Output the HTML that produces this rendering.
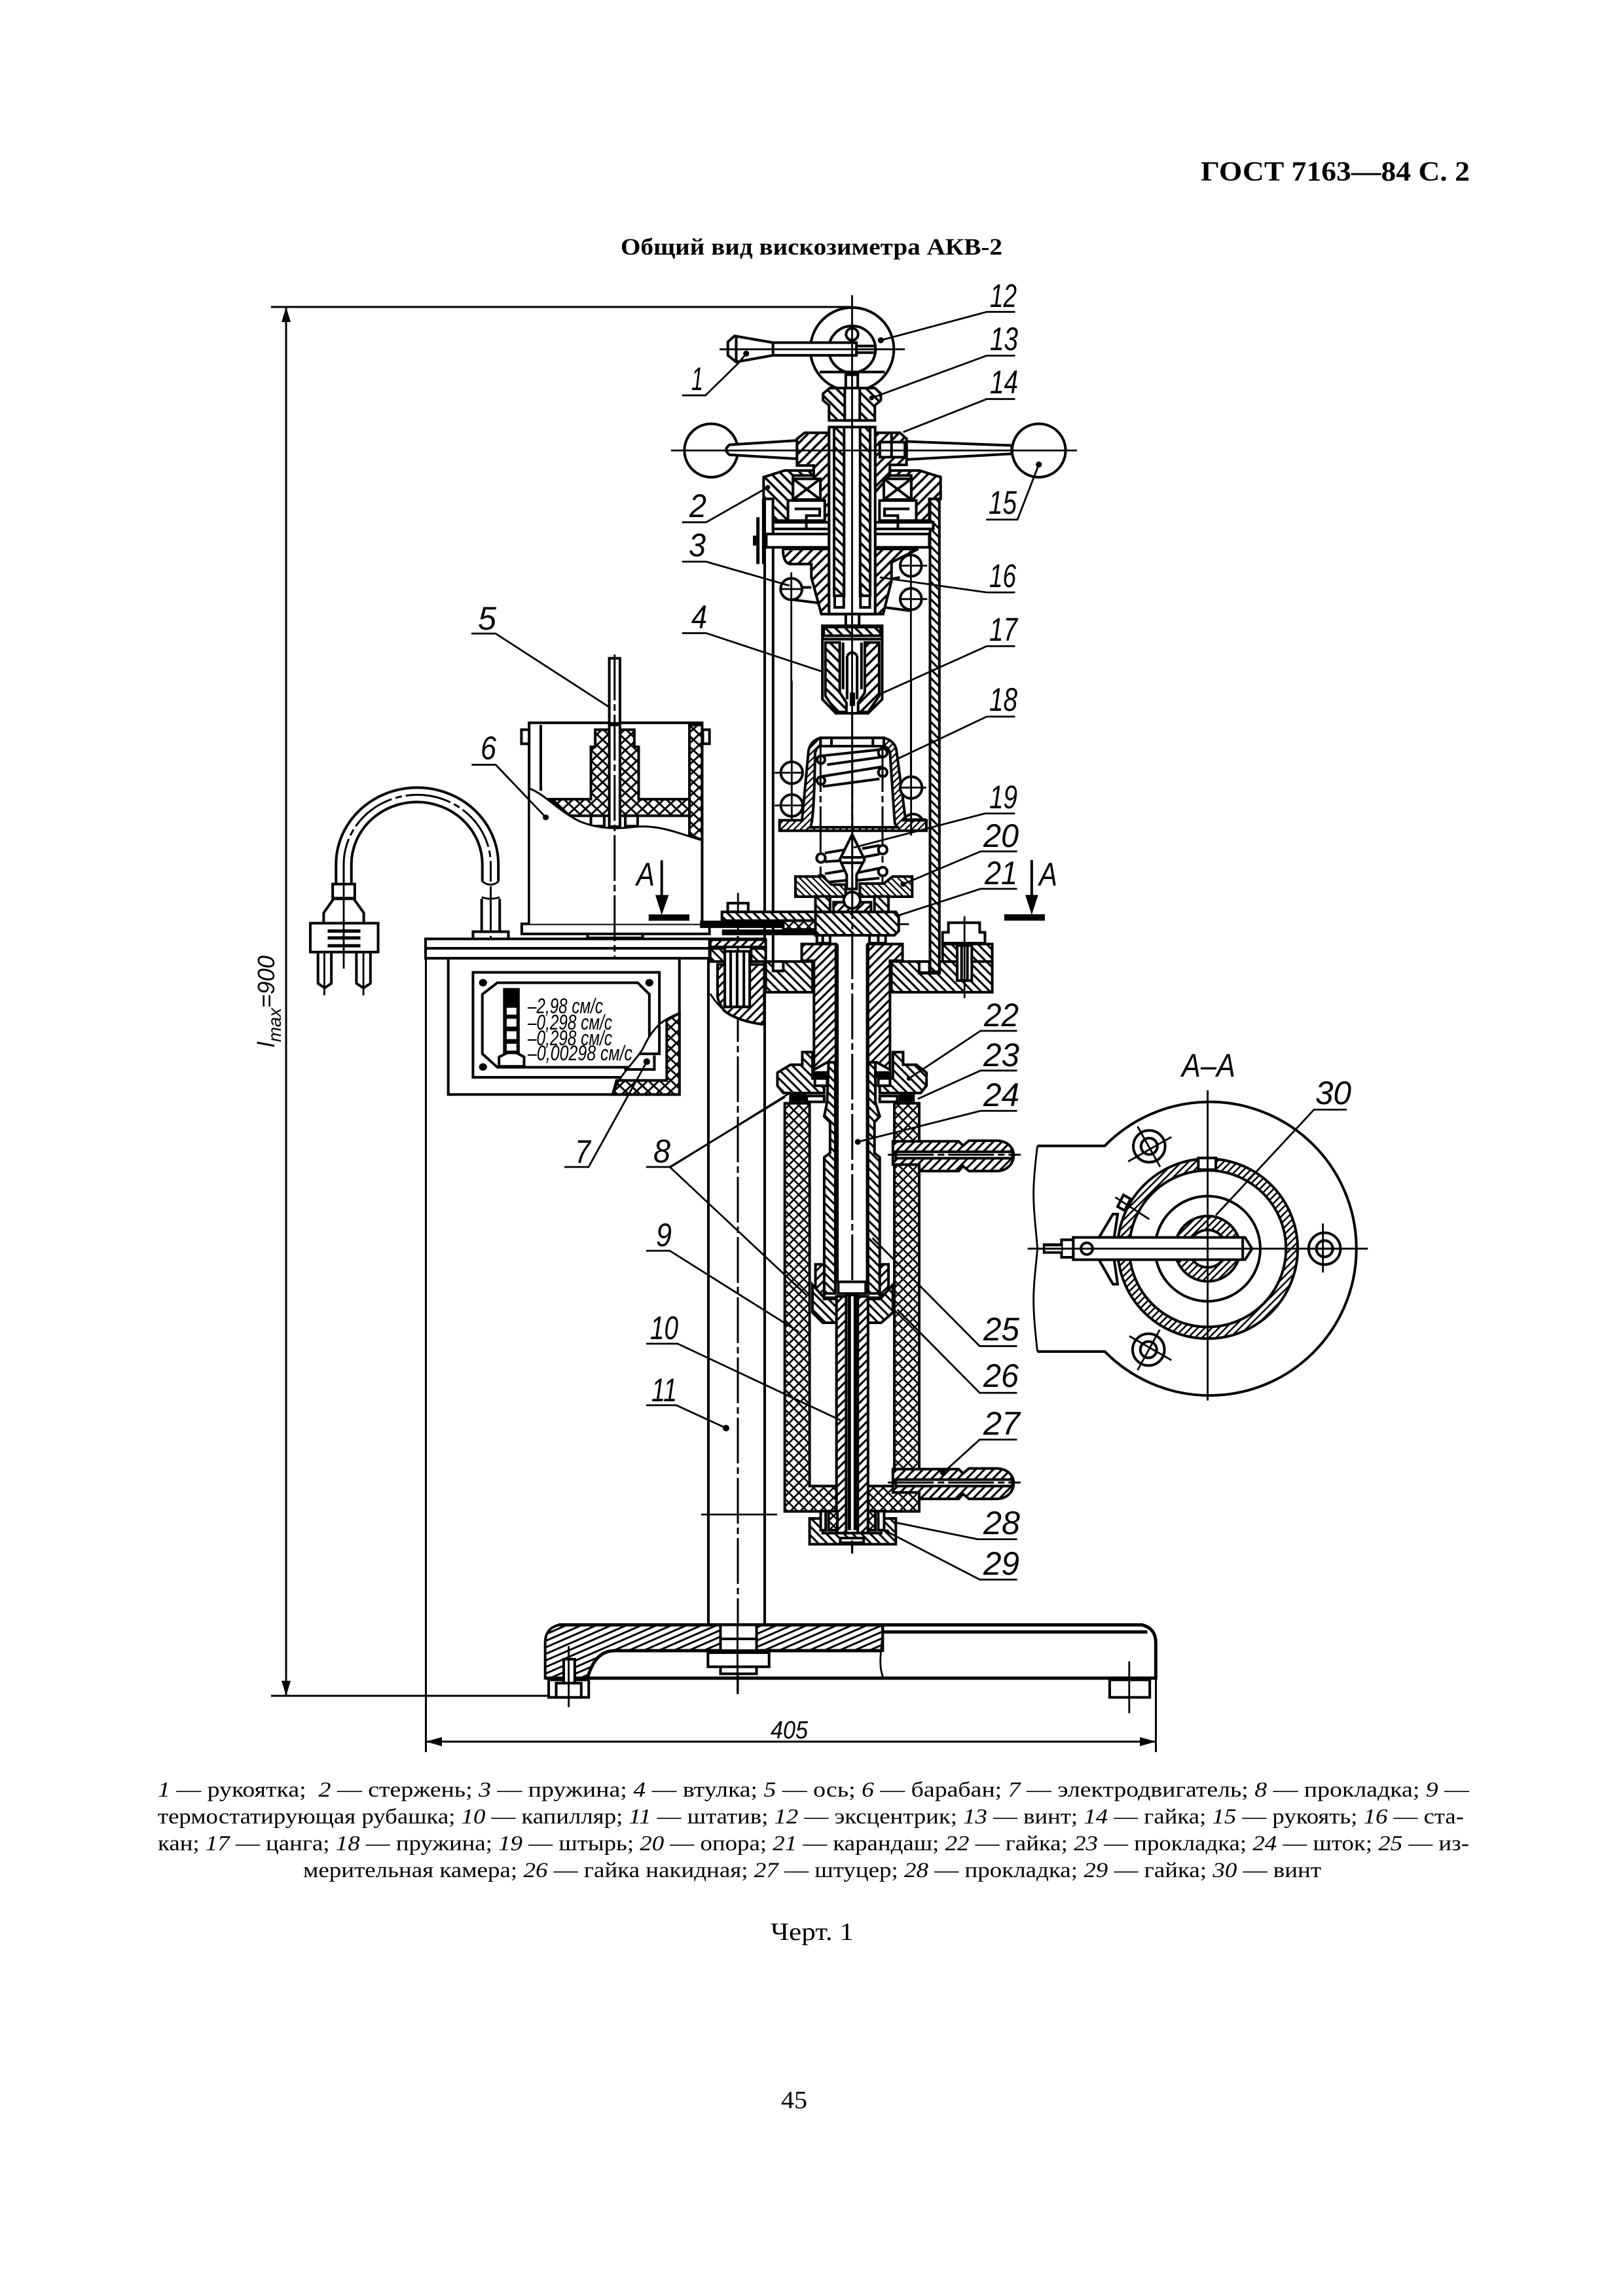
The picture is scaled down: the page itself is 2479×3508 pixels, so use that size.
<!DOCTYPE html>
<html><head><meta charset="utf-8"><style>
html,body{margin:0;padding:0;background:#fff}
svg{display:block}
.s,.o,.t,.d,.k{vector-effect:non-scaling-stroke}
.s{fill:#fff;stroke:#000;stroke-width:4;stroke-linejoin:miter}
.o{fill:none;stroke:#000;stroke-width:4}
.t{fill:none;stroke:#000;stroke-width:2.8}
.d{fill:none;stroke:#000;stroke-width:3;stroke-dasharray:70 6 10 6}
.k{fill:#000;stroke:none}
.A{fill:url(#a)}.B{fill:url(#b)}.C{fill:url(#c)}
text{fill:#000}
.l{font:italic 50px "Liberation Sans",sans-serif}
.m{font:italic 32px "Liberation Sans",sans-serif}
.r{font:33px "Liberation Serif",serif}
.r tspan{font-style:italic}
</style></head><body>
<svg xmlns="http://www.w3.org/2000/svg" width="2479" height="3508" viewBox="0 0 2479 3508">
<defs>
<pattern id="a" width="30" height="30" patternUnits="userSpaceOnUse"><rect width="30" height="30" fill="#fff"/><path d="M-5,5L5,-5M0,30L30,0M25,35L35,25" stroke="#000" stroke-width="7"/></pattern>
<pattern id="b" width="30" height="30" patternUnits="userSpaceOnUse"><rect width="30" height="30" fill="#fff"/><path d="M-5,25L5,35M0,0L30,30M25,-5L35,5" stroke="#000" stroke-width="7"/></pattern>
<pattern id="c" width="34" height="34" patternUnits="userSpaceOnUse"><rect width="34" height="34" fill="#fff"/><path d="M-5,5L5,-5M0,34L34,0M29,39L39,29M-5,29L5,39M0,0L34,34M29,-5L39,5" stroke="#000" stroke-width="6"/></pattern>
<g id="fit">
<path class="s A" d="M815,1330H1040L1055,1345L1075,1328H1170C1205,1328 1228,1350 1228,1378C1228,1408 1205,1432 1170,1432H1075L1055,1415L1040,1432H905V1410H815Z"/>
<path class="s" d="M825,1366H1224V1388H825Z"/>
<path class="d" d="M798,1376H1252"/>
</g>
</defs>
<rect width="2479" height="3508" fill="#fff"/>

<!-- page text -->
<text x="1834" y="276" textLength="411" lengthAdjust="spacingAndGlyphs" style="font:bold 42px 'Liberation Serif',serif">ГОСТ 7163—84 С. 2</text>
<text x="948" y="389" textLength="583" lengthAdjust="spacingAndGlyphs" style="font:bold 36px 'Liberation Serif',serif">Общий вид вискозиметра АКВ-2</text>
<text class="r" x="241" y="2745" textLength="2003" lengthAdjust="spacingAndGlyphs"><tspan>1</tspan> — рукоятка;&#160; <tspan>2</tspan> — стержень;  <tspan>3</tspan> — пружина;  <tspan>4</tspan> — втулка;  <tspan>5</tspan> — ось;  <tspan>6</tspan> — барабан;  <tspan>7</tspan> — электродвигатель;  <tspan>8</tspan> — прокладка;  <tspan>9</tspan> —</text>
<text class="r" x="241" y="2786" textLength="1995" lengthAdjust="spacingAndGlyphs">термостатирующая рубашка; <tspan>10</tspan> — капилляр; <tspan>11</tspan> — штатив; <tspan>12</tspan> — эксцентрик; <tspan>13</tspan> — винт; <tspan>14</tspan> — гайка; <tspan>15</tspan> — рукоять; <tspan>16</tspan> — ста-</text>
<text class="r" x="241" y="2827" textLength="2003" lengthAdjust="spacingAndGlyphs">кан; <tspan>17</tspan> —  цанга; <tspan>18</tspan> — пружина; <tspan>19</tspan> — штырь; <tspan>20</tspan> — опора; <tspan>21</tspan> — карандаш; <tspan>22</tspan> — гайка; <tspan>23</tspan> — прокладка; <tspan>24</tspan> — шток; <tspan>25</tspan> — из-</text>
<text class="r" x="463" y="2868" textLength="1555" lengthAdjust="spacingAndGlyphs">мерительная камера; <tspan>26</tspan> — гайка накидная; <tspan>27</tspan> — штуцер; <tspan>28</tspan> — прокладка; <tspan>29</tspan> — гайка; <tspan>30</tspan> — винт</text>
<text x="1177" y="2964" textLength="127" lengthAdjust="spacingAndGlyphs" style="font:38px 'Liberation Serif',serif">Черт. 1</text>
<text x="1193" y="3221" textLength="40" lengthAdjust="spacingAndGlyphs" style="font:38px 'Liberation Serif',serif">45</text>

<!-- dimensions -->
<path class="t" d="M414,469H1300M437,469V2591M414,2591H838M650.5,1465V2677M1765.5,2540V2677M650.5,2661H1765.5" style="stroke-width:3"/>
<path class="k" d="M437,469L444,492H430ZM437,2591L444,2568H430ZM650.5,2661L675,2654V2668ZM1765.5,2661L1741,2654V2668Z"/>
<text class="l" transform="translate(419,1600) rotate(-90)" style="font-size:36px" textLength="140" lengthAdjust="spacingAndGlyphs">l<tspan dy="10" style="font-size:28px">max</tspan><tspan dy="-10">=900</tspan></text>
<text class="l" x="1177" y="2656" style="font-size:38px" textLength="57" lengthAdjust="spacingAndGlyphs">405</text>

<!-- base stand -->
<path class="o" d="M1082,1464V2483M1168,730V2483"/>
<path class="d" d="M1127,1430V2588"/>
<path class="t" d="M1071,2314H1187"/>
<g transform="translate(620,2430) scale(.7651,.3333)">
<path class="s A" d="M305,158H952V276H415C380,280 370,350 362,402H278V240C278,200 285,170 305,158Z"/>
<path class="o" d="M305,158H1470C1490,170 1497,200 1497,240V402H278M950,190H1480M950,276H415C380,280 370,350 362,402" style="stroke-width:5"/>
<path class="s" d="M628,158H700V276H628Z"/>
<path class="o" d="M628,222H700"/>
<path class="s" d="M603,285H725V350H603ZM628,350H700V382H628Z"/>
<path class="t" d="M662,150V475M950,165C955,230 940,320 952,395"/>
<path class="s" d="M285,410H365V490H285ZM1405,410H1485V490H1405Z"/>
<path class="s" d="M300,425H350V490H300ZM315,315H337V425H315Z"/>
<path class="t" d="M325,255V535M1444,325V563"/>
</g>

<!-- housing walls -->
<g transform="translate(1000,1150) scale(.4464)">
<path class="o" d="M405,-945V745"/>
<rect class="s B" x="942" y="-945" width="32" height="1695"/>
</g>

<!-- motor box & drum -->
<g transform="translate(400,1000) scale(.5102,.4785)">
<path class="o" d="M222,733V670A243,245 0 0 1 708,670V725M268,733V670A195,198 0 0 1 660,670V725"/>
<path class="d" d="M245,733V670A220,222 0 0 1 685,670V725"/>
<path class="t" d="M660,725Q685,745 708,725M658,775Q685,785 712,775"/>
<path class="s" d="M212,733H278V778H212ZM215,780H275L305,825V858H185V825Z"/>
<path class="s" d="M145,858H348V950H145ZM168,950H208V1050L188,1065L168,1050ZM283,950H325V1050L304,1065L283,1050Z"/>
<path class="o" d="M197,883H295M197,905H295M197,930H295" style="stroke-width:5"/>
<path class="t" d="M187,950V1088M304,950V1088M245,733V1003"/>
<path class="o" d="M658,780V885M712,780V885"/>
<path class="s" d="M632,885H738V910H632Z"/>
<path class="d" d="M685,740V950"/>
<path class="s" d="M490,908H1340V970H490Z"/>
<path class="o" d="M490,938H1340M1340,908H1510"/>
<path class="s" d="M558,970H1250V1405H558Z"/>
<rect class="o" x="632" y="1015" width="558" height="335"/>
<path class="o" d="M660,1085L705,1048H1125L1160,1085V1280L1125,1318H705L660,1275Z"/>
<circle class="k" cx="662" cy="1048" r="12"/><circle class="k" cx="1160" cy="1048" r="12"/><circle class="k" cx="662" cy="1317" r="12"/>
<rect class="k" x="722" y="1065" width="50" height="215"/>
<path d="M733,1128H762V1150H733ZM733,1163H762V1188H733ZM733,1203H762V1228H733ZM733,1243H762V1265H733Z" fill="#fff"/>
<path class="s" d="M710,1285L735,1272H762L785,1285V1315H710Z"/>
<path d="M1250,1145C1200,1165 1170,1190 1140,1260C1110,1310 1070,1340 1050,1405H1250Z" fill="#fff"/>
<path class="s C" d="M1212,1168L1250,1145V1405H1050L1062,1360H1212Z"/>
<path class="o" d="M1190,1185V1275H1130M1175,1280V1325H1085"/>
<path class="t" d="M1250,1145C1200,1165 1170,1190 1140,1260C1110,1310 1070,1340 1050,1405"/>
<!-- drum -->
<path class="s" d="M778,860H1340V892H778Z"/>
<path class="s" d="M800,218H1318V860H800Z"/>
<path class="s" d="M777,240H800V285H777ZM1320,240H1340V285H1320Z"/>
<path class="o" d="M835,225V435"/>
<path class="s C" d="M1280,225H1318V592C1300,585 1290,580 1280,575Z"/>
<path class="s C" d="M860,462H985V295H998V240H1115V295H1128V462H1280V515H925C900,500 880,480 860,462Z"/>
<path class="s" d="M1040,225H1072V550H1040Z"/>
<path class="s" d="M985,515H1025V548H985ZM1088,515H1125V548H1088Z"/>
<path d="M802,428C850,450 880,490 930,520C980,555 1056,558 1100,552C1180,540 1230,565 1314,592V860H802Z" fill="#fff"/>
<path class="o" d="M802,428C850,450 880,490 930,520C980,555 1056,558 1100,552C1180,540 1230,565 1314,592M800,428V860M1318,590V860" style="stroke-width:3"/>
<path class="s" d="M1040,12H1072V220H1040Z"/>
<path class="d" d="M1056,0V965"/>
<path class="o" d="M975,892V905H1140V892"/>
<path class="o" d="M1197,657V770"/>
<path class="k" d="M1178,768H1218L1197,832ZM1158,830H1280V850H1158Z"/>
<path class="t" d="M628,352H700L850,520"/>
<circle class="k" cx="850" cy="520" r="9"/>
<circle class="k" cx="1152" cy="1300" r="10"/>
</g>
<text class="m" x="806" y="1548" textLength="115" lengthAdjust="spacingAndGlyphs">–2,98 см/с</text>
<text class="m" x="806" y="1573" textLength="129" lengthAdjust="spacingAndGlyphs">–0,298 см/с</text>
<text class="m" x="806" y="1597" textLength="129" lengthAdjust="spacingAndGlyphs">–0,298 см/с</text>
<text class="m" x="806" y="1620" textLength="160" lengthAdjust="spacingAndGlyphs">–0,00298 см/с</text>

<!-- top assembly -->
<g transform="translate(900,400) scale(.5102)">
<circle class="o" cx="787" cy="262" r="125"/>
<circle class="o" cx="787" cy="262" r="70"/>
<circle class="o" cx="787" cy="217" r="18"/>
<path class="o" d="M690,330H885"/>
<path class="s" d="M415,240L435,222L550,242H800V280H550L440,300L415,280Z"/>
<path class="o" d="M550,242V280M440,225V300"/>
<path class="o" d="M800,252H860M800,272H860"/>
<rect class="s" x="768" y="338" width="36" height="44"/>
<path class="s B" d="M700,395L720,378H855L873,395V415L855,430V475H718V430L700,415Z"/>
<rect class="s" x="765" y="378" width="45" height="97"/>
<circle class="s" cx="365" cy="565" r="80"/>
<circle class="s" cx="1346" cy="565" r="80"/>
<path class="s" d="M622,535L420,548Q400,562 420,578L622,590Z"/>
<path class="s" d="M950,538L1265,550V575L950,592Z"/>
<path class="s A" d="M622,530L645,512H718V800H672V610H622Z"/>
<path class="s A" d="M856,512H930L950,530V608H900V640L856,690Z"/>
<path class="s" d="M870,540H945V585H870Z"/><path class="o" d="M905,515V585"/>
<!-- cap -->
<path class="s B" d="M522,645L585,625H672V640H610V715H595V745L610,775L550,775V710H522Z"/>
<path class="s A" d="M1052,645L989,625H900V640H964V715H979V745L964,775L1018,775V710H1052Z"/>
<path class="s" d="M610,650H692V712H610ZM882,650H964V712H882Z"/>
<path class="o" d="M610,650L692,712M692,650L610,712M882,650L964,712M964,650L882,712"/>
<path class="s" d="M595,715H705V775H595ZM869,715H979V775H869Z"/>
<path class="o" d="M615,740H690V760H650V780M959,740H884V760H924V780"/>
<path class="s" d="M550,780H718V800H550ZM856,780H1030V800H856Z"/><path class="o" d="M650,780V800M924,780V800"/>
<path class="s" d="M530,815H718V855H530ZM856,815H1018V855H856Z"/>
<path class="o" d="M505,765V905M495,820V850M522,710V905" style="stroke-width:5"/>
<!-- cup -->
<path class="s A" d="M718,860V1055H695L665,945V905H600Q580,900 580,860Z"/>
<path class="s A" d="M856,860H985L905,900V955L880,1055H856Z"/>
<!-- shaft -->
<rect class="s" x="718" y="495" width="138" height="560"/>
<rect class="s B" x="733" y="495" width="30" height="505"/>
<rect class="s B" x="811" y="495" width="30" height="505"/>
<path class="o" d="M735,1000V1035H762V970M840,1000V1035H812V970M718,1055H856"/>
<rect class="s" x="768" y="1055" width="40" height="35"/>
<!-- coils -->
<path class="o" d="M640,975H665M610,1012L690,1022M930,945L905,950M960,1045L885,1035"/>
<circle class="s" cx="605" cy="980" r="32"/><circle class="s" cx="963" cy="910" r="32"/><circle class="s" cx="963" cy="1010" r="32"/>
<path class="t" d="M605,930V1568M573,980H637M963,860V1568M931,910H1012M931,1010H1012"/>
<!-- collet -->
<path class="s" d="M698,1090H877V1310L835,1352H738L698,1310Z"/>
<rect class="s B" x="702" y="1094" width="170" height="26"/>
<path class="o" d="M698,1130H877"/>
<path class="s B" d="M707,1140H750V1290L770,1320V1348H740L707,1300Z"/>
<path class="s A" d="M868,1140H825V1290L805,1320V1348H835L868,1300Z"/>
<path class="o" d="M772,1180V1310M802,1180V1310M772,1180Q787,1160 802,1180M760,1140V1280M815,1140V1280"/>
<rect class="k" x="780" y="1290" width="16" height="40"/>
<!-- thin centre + leaders -->
<path class="t" d="M390,262H945M245,565H1460M787,100V1430"/>
<path class="t" d="M1275,150H1190L873,235M1275,281H1190L845,408M1275,411H1190L940,510M278,400H348L445,305L470,275M1188,772H1282L1346,607M278,780H350L535,675M278,898H350L600,970M1275,990H1190L870,945M278,1112H350L700,1228M1275,1151H1190L870,1295M1275,1362H1190L920,1490"/>
<circle class="k" cx="873" cy="235" r="9"/><circle class="k" cx="470" cy="275" r="9"/><circle class="k" cx="845" cy="408" r="7"/><circle class="k" cx="1346" cy="607" r="9"/><circle class="k" cx="535" cy="675" r="7"/>
</g>

<!-- spring cup & pin -->
<g transform="translate(1150,1040) scale(.3333)">
<path class="s A" d="M225,640L255,320Q265,275 310,262H600Q650,275 658,320L700,640H795V688H122V640ZM262,672Q280,660 285,330Q295,300 310,300H590Q620,300 628,330L650,650Q655,672 670,672Z" fill-rule="evenodd"/>
<path class="s" d="M310,262H600V300H310Z"/><path class="o" d="M360,262V300M550,262V300"/>
<path class="o" d="M312,345L590,315M340,385L590,350M310,440L590,395M320,485L580,450"/>
<circle class="s" cx="312" cy="362" r="18"/><circle class="s" cx="312" cy="458" r="18"/><circle class="s" cx="595" cy="330" r="20"/><circle class="s" cx="595" cy="420" r="20"/>
<circle class="s" cx="178" cy="422" r="50"/><circle class="s" cx="178" cy="572" r="50"/><circle class="s" cx="725" cy="490" r="50"/>
<path class="s" d="M690,640A48,48 0 0 1 778,640Z"/>
<path class="t" d="M178,0V640M100,422H228M100,572H228M725,0V710M680,490H795M695,635H795"/>
<path class="d" d="M310,300V930M594,300V930M455,150V705"/>
<path class="o" d="M330,790L420,775M330,830L400,825M500,770L580,755M500,810L580,795M330,885L420,870M330,925L430,915M480,880L580,860M480,915L580,905"/>
<circle class="s" cx="312" cy="813" r="20"/><circle class="s" cx="595" cy="775" r="20"/><circle class="s" cx="595" cy="875" r="20"/><circle class="s" cx="312" cy="912" r="20"/>
<path class="s" d="M455,705L398,820L430,890V955H475V890L512,820Z"/>
<path class="o" d="M410,810H500M410,835H500"/>
<path class="s B" d="M195,898H320L360,935H425V990H195Z"/>
<path class="s B" d="M490,930H600L640,898H730V990H490Z"/>
<path class="t" d="M455,705V960"/>
</g>

<!-- lower centre assembly (zoom-2 coordinates) -->
<g transform="translate(1000,1150) scale(.4464)">
<!-- rod 21 & mounting -->
<path class="s" d="M250,515H320V545H250Z"/>
<path class="t" d="M285,480V620"/>
<rect class="s A" x="190" y="640" width="190" height="25"/>
<path class="s B" d="M190,670H240V715H190ZM330,670H380V715H330Z"/>
<path class="s A" d="M215,725H240V870H325V725H375V930C320,925 260,905 235,880C225,860 215,850 215,830Z"/>
<rect class="s" x="240" y="680" width="85" height="190"/>
<path class="o" d="M260,680V870M282,680V870M305,680V870"/>
<path class="t" d="M190,825C205,850 220,865 235,880"/>
<path class="s B" d="M380,715H540V820H380Z"/><rect class="s" x="405" y="715" width="35" height="32"/>
<path class="s B" d="M810,715H905V755H975V715H1155V820H810Z"/><rect class="s" x="905" y="715" width="35" height="38"/>
<rect class="s B" x="985" y="655" width="170" height="60"/>
<path class="s" d="M1005,582H1112V615H1130V652H985V615H1005Z"/>
<rect class="s" x="1035" y="660" width="50" height="120"/>
<path class="o" d="M1050,660V780M1070,660V780"/>
<path class="t" d="M1060,560V840"/>
<path class="s B" d="M230,545H560V575H230Z"/>
<path class="k" d="M155,575H445V600H155ZM230,605H560V625H230Z"/>
<path class="s C" d="M440,575H565V605H440Z"/>
<path class="s B" d="M550,545H825L835,560V610L820,625H550Z"/>
<path class="t" d="M835,587H870"/>
<!-- under plate -->
<path class="s B" d="M550,492H600V545H550ZM752,492H800V545H752Z"/>
<path class="s A" d="M612,545V512H650L675,535L700,512H740V545Z"/>
<circle class="s" cx="675" cy="505" r="28"/>
<path class="s" d="M555,625H600V652H555ZM735,625H790V652H735Z"/><path class="o" d="M575,625V652M765,625V652"/>
<!-- tube -->
<path class="s A" d="M503,655H620V1060H590L545,1085V712H503Z"/>
<path class="s A" d="M730,655H848V712H805V1085L760,1060H730Z"/>
<!-- nuts 22 -->
<path class="s B" d="M420,1095L465,1068H505V1025H540V1115H580V1165H440L420,1140Z"/>
<path class="s B" d="M815,1025H850V1068H895L930,1095V1140L910,1165H770V1115H815Z"/>
<path class="s" d="M548,1115H590V1140H548ZM765,1115H805V1140H765Z"/>
<path class="k" d="M460,1165H520V1195H460ZM835,1165H890V1195H835ZM540,1090H600V1112H540ZM750,1090H810V1112H750Z"/>
<path class="s" d="M520,1175H580V1195H520ZM770,1175H830V1195H770Z"/>
<!-- jackets -->
<path class="s C" d="M445,1200H530V2510H625V2597H445Z"/>
<path class="s C" d="M820,1200H905V2597H730V2510H820Z"/>
<!-- inner sleeves -->
<path class="s B" d="M595,1060H618V1851H580V1385L600,1370V1265L580,1245L590,1195Z"/>
<path class="s B" d="M730,1060H755V1195L770,1245L752,1265V1370L770,1385V1851H730Z"/>
<path class="o" d="M625,655V1811M727,655V1811"/>
<!-- fittings -->
<use href="#fit"/>
<use href="#fit" y="1122"/>
<circle class="k" cx="695" cy="1332" r="10"/>
<circle class="k" cx="870" cy="1115" r="8"/>
<circle class="k" cx="850" cy="450" r="9"/>
<path class="d" d="M676,0V2740"/>
<!-- A arrow -->
<path class="o" d="M1290,367V490"/>
<path class="k" d="M1268,487H1312L1290,555ZM1196,553H1335V575H1196Z"/>
<!-- leaders -->
<path class="t" d="M1233,208H1130L680,325M1240,338H1115L850,450M1240,466H1115L825,560M1240,952H1115L870,1115M1240,1088H1115L900,1185M1240,1226H1115L695,1332M55,1418L470,1160"/>
</g>

<!-- lower part (zoom-3 coordinates) -->
<g transform="translate(1000,1800) scale(.4464)">
<path class="s A" d="M550,295H580V400H550ZM770,295H800V400H770Z"/>
<path class="s" d="M628,355H722V395H628Z"/>
<path class="s B" d="M540,365L580,410H655V425L625,460V495H575L540,460Z"/>
<path class="s B" d="M815,365L775,410H695V425L725,460V495H775L815,460Z"/>
<path class="k" d="M575,405H775V418H575Z"/>
<path class="s A" d="M622,405H730V1215H622Z"/>
<rect class="s" x="655" y="400" width="40" height="815"/>
<path class="o" d="M666,400V1205M686,400V1205" style="stroke-width:5"/>
<path class="s B" d="M530,1165H575V1215H775V1165H825V1253H530Z"/>
<path class="s" d="M635,1232H715V1248H635Z"/>
<path class="s C" d="M595,1140H625V1205H595ZM730,1140H755V1205H730Z"/>
<path class="s" d="M568,1140H585V1205H568ZM765,1140H785V1205H765Z"/>
<path class="t" d="M675,1240V1285"/>
<path class="t" d="M1240,575H1112L745,205M1240,735H1112L830,450M1240,895H1112L985,1010M1240,1236H1105L820,1178M1240,1374H1112L795,1210"/>
<circle class="k" cx="985" cy="1008" r="9"/><circle class="k" cx="795" cy="1210" r="8"/>
</g>

<!-- left leaders, real coords -->
<path class="t" d="M720,968H757L930,1080M862,1783H899L988,1622M987,1783H1023L1199,1676M1023,1783L1233,1980M987,1911H1023L1220,2035M987,2053H1035L1286,2171M987,2147H1033L1109,2182"/>
<circle class="k" cx="1109" cy="2182" r="5"/><circle class="k" cx="988" cy="1622" r="5"/>

<!-- Section A-A -->
<g transform="translate(1550,1580) scale(.3571)">
<path class="o" d="M97,478H385A628,628 0 1 1 385,1358H97"/>
<path class="t" d="M97,478C70,690 80,720 97,918C80,1100 70,1130 97,1358"/>
<path class="s A" fill-rule="evenodd" d="M440,918A385,385 0 1 1 1210,918A385,385 0 1 1 440,918ZM490,918A335,335 0 1 0 1160,918A335,335 0 1 0 490,918Z"/>
<circle class="o" cx="825" cy="918" r="225"/>
<path class="s A" fill-rule="evenodd" d="M685,918A140,140 0 1 1 965,918A140,140 0 1 1 685,918ZM745,918A80,80 0 1 0 905,918A80,80 0 1 0 745,918Z"/>
<rect class="s" x="785" y="530" width="75" height="50"/>
<g id="bolt"><circle class="o" cx="575" cy="480" r="68"/><circle class="o" cx="575" cy="480" r="35"/><path class="t" d="M525,395L622,568M485,545L670,440"/></g>
<circle class="o" cx="572" cy="1350" r="68"/><circle class="o" cx="572" cy="1350" r="35"/><path class="t" d="M620,1265L525,1438M490,1292L670,1395"/>
<circle class="o" cx="1325" cy="918" r="68"/><circle class="o" cx="1325" cy="918" r="35"/><path class="t" d="M1318,810V1020M1250,918H1400"/>
<path class="s" d="M360,870L420,770H440L425,870ZM360,965L420,1070H440L425,965Z"/>
<path class="s" d="M465,688L495,705L470,755L440,738Z"/><path class="t" d="M430,698L575,792"/>
<path class="s" d="M250,870H985L1015,918L985,965H250Z"/>
<path class="s" d="M200,880H250V955H200Z"/>
<path class="k" d="M120,895H200V940H120Z"/>
<path d="M130,908H200V915H130ZM130,922H200V929H130Z" fill="#fff"/>
<circle class="s" cx="308" cy="918" r="25"/>
<path class="o" d="M975,875V960"/>
<path class="t" d="M825,240V1568M55,918H1510M1420,323H1280L860,775"/>
</g>

<!-- labels -->
<g class="l">
<text class="l" x="1512" y="469" textLength="41" lengthAdjust="spacingAndGlyphs">12</text>
<text class="l" x="1512" y="535" textLength="43" lengthAdjust="spacingAndGlyphs">13</text>
<text class="l" x="1512" y="601" textLength="43" lengthAdjust="spacingAndGlyphs">14</text>
<text class="l" x="1056" y="596" textLength="18" lengthAdjust="spacingAndGlyphs">1</text>
<text class="l" x="1510" y="785" textLength="43" lengthAdjust="spacingAndGlyphs">15</text>
<text class="l" x="1053" y="790" textLength="26" lengthAdjust="spacingAndGlyphs">2</text>
<text class="l" x="1052" y="850" textLength="26" lengthAdjust="spacingAndGlyphs">3</text>
<text class="l" x="1511" y="897" textLength="41" lengthAdjust="spacingAndGlyphs">16</text>
<text class="l" x="1056" y="960" textLength="24" lengthAdjust="spacingAndGlyphs">4</text>
<text class="l" x="1511" y="979" textLength="43" lengthAdjust="spacingAndGlyphs">17</text>
<text class="l" x="1511" y="1086" textLength="43" lengthAdjust="spacingAndGlyphs">18</text>
<text class="l" x="1511" y="1235" textLength="43" lengthAdjust="spacingAndGlyphs">19</text>
<text class="l" x="1502" y="1294" textLength="54" lengthAdjust="spacingAndGlyphs">20</text>
<text class="l" x="1504" y="1351" textLength="50" lengthAdjust="spacingAndGlyphs">21</text>
<text class="l" x="1587" y="1353" textLength="28" lengthAdjust="spacingAndGlyphs">A</text>
<text class="l" x="972" y="1353" textLength="28" lengthAdjust="spacingAndGlyphs">A</text>
<text class="l" x="1503" y="1568" textLength="53" lengthAdjust="spacingAndGlyphs">22</text>
<text class="l" x="1502" y="1629" textLength="55" lengthAdjust="spacingAndGlyphs">23</text>
<text class="l" x="1502" y="1690" textLength="55" lengthAdjust="spacingAndGlyphs">24</text>
<text class="l" x="1502" y="2048" textLength="55" lengthAdjust="spacingAndGlyphs">25</text>
<text class="l" x="1502" y="2119" textLength="54" lengthAdjust="spacingAndGlyphs">26</text>
<text class="l" x="1502" y="2192" textLength="56" lengthAdjust="spacingAndGlyphs">27</text>
<text class="l" x="1502" y="2344" textLength="56" lengthAdjust="spacingAndGlyphs">28</text>
<text class="l" x="1502" y="2406" textLength="55" lengthAdjust="spacingAndGlyphs">29</text>
<text class="l" x="878" y="1777" textLength="24" lengthAdjust="spacingAndGlyphs">7</text>
<text class="l" x="998" y="1776" textLength="26" lengthAdjust="spacingAndGlyphs">8</text>
<text class="l" x="1002" y="1904" textLength="24" lengthAdjust="spacingAndGlyphs">9</text>
<text class="l" x="993" y="2046" textLength="43" lengthAdjust="spacingAndGlyphs">10</text>
<text class="l" x="995" y="2141" textLength="39" lengthAdjust="spacingAndGlyphs">11</text>
<text class="l" x="734" y="1160" textLength="24" lengthAdjust="spacingAndGlyphs">6</text>
<text class="l" x="730" y="962" textLength="28" lengthAdjust="spacingAndGlyphs">5</text>
<text class="l" x="1805" y="1645" textLength="82" lengthAdjust="spacingAndGlyphs">A–A</text>
<text class="l" x="2009" y="1687" textLength="55" lengthAdjust="spacingAndGlyphs">30</text>
</g>
</svg>
</body></html>
